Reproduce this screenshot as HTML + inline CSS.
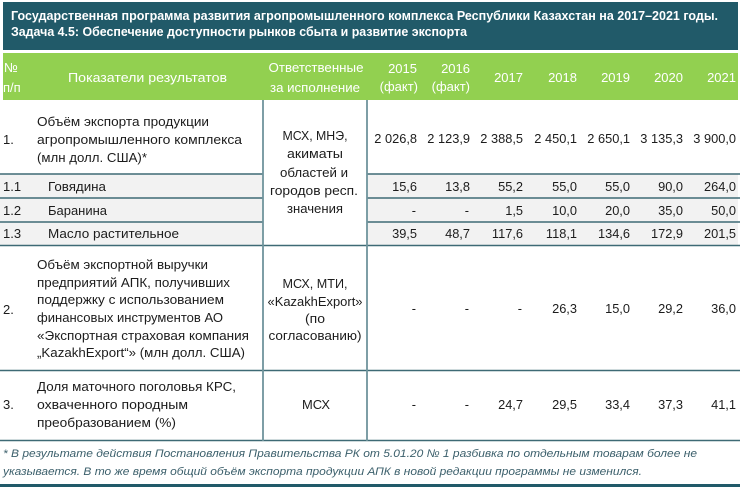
<!DOCTYPE html>
<html><head><meta charset="utf-8"><style>
html,body{margin:0;padding:0;background:#fff;}
svg{display:block;}
text{font-family:"Liberation Sans","DejaVu Sans",sans-serif;}
.t{font-size:12.5px;font-weight:bold;fill:#fff;}
.h{font-size:13px;fill:#fff;}
.b{font-size:13px;fill:#1c1c1c;}
.n{font-size:12.8px;fill:#1c1c1c;text-anchor:end;}
.c{text-anchor:middle;}
.f{font-size:11px;font-style:italic;fill:#3b5f6b;}
</style></head><body>
<svg width="740" height="487" viewBox="0 0 740 487" xmlns="http://www.w3.org/2000/svg">
<rect x="0" y="0" width="740" height="487" fill="#fff"/>
<!-- title -->
<rect x="3" y="2" width="735" height="48" fill="#215a69"/>
<text class="t" x="11" y="20" textLength="707" lengthAdjust="spacingAndGlyphs">Государственная программа развития агропромышленного комплекса Республики Казахстан на 2017–2021 годы.</text>
<text class="t" x="11" y="36" textLength="456" lengthAdjust="spacingAndGlyphs">Задача 4.5: Обеспечение доступности рынков сбыта и развитие экспорта</text>
<!-- header -->
<rect x="3" y="53" width="735" height="47" fill="#92d050"/>
<text class="h" x="4" y="72">№</text>
<text class="h" x="3" y="92">п/п</text>
<text class="h" x="68" y="82" textLength="159" lengthAdjust="spacingAndGlyphs">Показатели результатов</text>
<text class="h c" x="316" y="72" textLength="95" lengthAdjust="spacingAndGlyphs">Ответственные</text>
<text class="h c" x="315" y="92" textLength="90" lengthAdjust="spacingAndGlyphs">за исполнение</text>
<text class="h" x="417" y="73" text-anchor="end">2015</text>
<text class="h" x="418" y="91" text-anchor="end">(факт)</text>
<text class="h" x="470" y="73" text-anchor="end">2016</text>
<text class="h" x="470" y="91" text-anchor="end">(факт)</text>
<text class="h" x="523" y="82" text-anchor="end">2017</text>
<text class="h" x="577" y="82" text-anchor="end">2018</text>
<text class="h" x="630" y="82" text-anchor="end">2019</text>
<text class="h" x="683" y="82" text-anchor="end">2020</text>
<text class="h" x="736" y="82" text-anchor="end">2021</text>
<!-- sub-row backgrounds -->
<rect x="0" y="174" width="263" height="71" fill="#f2f2f2"/>
<rect x="367" y="174" width="371" height="71" fill="#f2f2f2"/>
<!-- horizontal lines -->
<g stroke="#3e6a75" stroke-width="1.6">
<line x1="0" y1="174" x2="263" y2="174"/><line x1="367" y1="174" x2="740" y2="174"/>
<line x1="0" y1="198" x2="263" y2="198"/><line x1="367" y1="198" x2="740" y2="198"/>
<line x1="0" y1="222" x2="263" y2="222"/><line x1="367" y1="222" x2="740" y2="222"/>
<line x1="0" y1="245.5" x2="740" y2="245.5"/>
<line x1="0" y1="370.5" x2="740" y2="370.5"/>
<line x1="0" y1="440.5" x2="740" y2="440.5"/>
</g>
<g stroke="#6f949c" stroke-width="1.8">
<line x1="263" y1="100" x2="263" y2="441"/>
<line x1="367" y1="100" x2="367" y2="441"/>
</g>
<rect x="0" y="484" width="740" height="3" fill="#215a69"/>
<!-- row 1 -->
<text class="b" x="3" y="144">1.</text>
<text class="b" x="37" y="126" textLength="172" lengthAdjust="spacingAndGlyphs">Объём экспорта продукции</text>
<text class="b" x="37" y="144" textLength="205" lengthAdjust="spacingAndGlyphs">агропромышленного комплекса</text>
<text class="b" x="37" y="162" textLength="110" lengthAdjust="spacingAndGlyphs">(млн долл. США)*</text>
<text class="b c" x="315" y="140" textLength="65" lengthAdjust="spacingAndGlyphs">МСХ, МНЭ,</text>
<text class="b c" x="315" y="158" textLength="56" lengthAdjust="spacingAndGlyphs">акиматы</text>
<text class="b c" x="314" y="177" textLength="68" lengthAdjust="spacingAndGlyphs">областей и</text>
<text class="b c" x="314" y="195" textLength="88" lengthAdjust="spacingAndGlyphs">городов респ.</text>
<text class="b c" x="315" y="213" textLength="56" lengthAdjust="spacingAndGlyphs">значения</text>
<g class="n">
<text class="n" x="417" y="143">2 026,8</text><text class="n" x="470" y="143">2 123,9</text><text class="n" x="523" y="143">2 388,5</text><text class="n" x="577" y="143">2 450,1</text><text class="n" x="630" y="143">2 650,1</text><text class="n" x="683" y="143">3 135,3</text><text class="n" x="736" y="143">3 900,0</text>
</g>
<!-- 1.1 -->
<text class="b" x="3" y="191">1.1</text>
<text class="b" x="48" y="191" textLength="58" lengthAdjust="spacingAndGlyphs">Говядина</text>
<text class="n" x="417" y="191">15,6</text><text class="n" x="470" y="191">13,8</text><text class="n" x="523" y="191">55,2</text><text class="n" x="577" y="191">55,0</text><text class="n" x="630" y="191">55,0</text><text class="n" x="683" y="191">90,0</text><text class="n" x="736" y="191">264,0</text>
<!-- 1.2 -->
<text class="b" x="3" y="215">1.2</text>
<text class="b" x="48" y="215" textLength="59" lengthAdjust="spacingAndGlyphs">Баранина</text>
<text class="n" x="416" y="215">-</text><text class="n" x="469" y="215">-</text><text class="n" x="523" y="215">1,5</text><text class="n" x="577" y="215">10,0</text><text class="n" x="630" y="215">20,0</text><text class="n" x="683" y="215">35,0</text><text class="n" x="736" y="215">50,0</text>
<!-- 1.3 -->
<text class="b" x="3" y="238">1.3</text>
<text class="b" x="48" y="238" textLength="131" lengthAdjust="spacingAndGlyphs">Масло растительное</text>
<text class="n" x="417" y="238">39,5</text><text class="n" x="470" y="238">48,7</text><text class="n" x="523" y="238">117,6</text><text class="n" x="577" y="238">118,1</text><text class="n" x="630" y="238">134,6</text><text class="n" x="683" y="238">172,9</text><text class="n" x="736" y="238">201,5</text>
<!-- row 2 -->
<text class="b" x="3" y="314">2.</text>
<text class="b" x="37" y="269" textLength="171" lengthAdjust="spacingAndGlyphs">Объём экспортной выручки</text>
<text class="b" x="37" y="287" textLength="193" lengthAdjust="spacingAndGlyphs">предприятий АПК, получивших</text>
<text class="b" x="37" y="304" textLength="187" lengthAdjust="spacingAndGlyphs">поддержку с использованием</text>
<text class="b" x="37" y="322" textLength="186" lengthAdjust="spacingAndGlyphs">финансовых инструментов АО</text>
<text class="b" x="37" y="340" textLength="212" lengthAdjust="spacingAndGlyphs">«Экспортная страховая компания</text>
<text class="b" x="37" y="357" textLength="208" lengthAdjust="spacingAndGlyphs">„KazakhExport“» (млн долл. США)</text>
<text class="b c" x="315" y="288" textLength="65" lengthAdjust="spacingAndGlyphs">МСХ, МТИ,</text>
<text class="b c" x="315" y="306" textLength="95" lengthAdjust="spacingAndGlyphs">«KazakhExport»</text>
<text class="b c" x="315" y="323" textLength="20" lengthAdjust="spacingAndGlyphs">(по</text>
<text class="b c" x="315" y="340" textLength="93" lengthAdjust="spacingAndGlyphs">согласованию)</text>
<text class="n" x="416" y="313">-</text><text class="n" x="469" y="313">-</text><text class="n" x="522" y="313">-</text><text class="n" x="577" y="313">26,3</text><text class="n" x="630" y="313">15,0</text><text class="n" x="683" y="313">29,2</text><text class="n" x="736" y="313">36,0</text>
<!-- row 3 -->
<text class="b" x="3" y="409">3.</text>
<text class="b" x="37" y="391" textLength="199" lengthAdjust="spacingAndGlyphs">Доля маточного поголовья КРС,</text>
<text class="b" x="37" y="409" textLength="151" lengthAdjust="spacingAndGlyphs">охваченного породным</text>
<text class="b" x="37" y="427" textLength="139" lengthAdjust="spacingAndGlyphs">преобразованием (%)</text>
<text class="b c" x="316" y="409" textLength="28" lengthAdjust="spacingAndGlyphs">МСХ</text>
<text class="n" x="416" y="409">-</text><text class="n" x="469" y="409">-</text><text class="n" x="523" y="409">24,7</text><text class="n" x="577" y="409">29,5</text><text class="n" x="630" y="409">33,4</text><text class="n" x="683" y="409">37,3</text><text class="n" x="736" y="409">41,1</text>
<!-- footnote -->
<text class="f" x="3" y="457" textLength="694" lengthAdjust="spacingAndGlyphs">* В результате действия Постановления Правительства РК от 5.01.20 № 1 разбивка по отдельным товарам более не</text>
<text class="f" x="3" y="475" textLength="639" lengthAdjust="spacingAndGlyphs">указывается. В то же время общий объём экспорта продукции АПК в новой редакции программы не изменился.</text>
</svg>
</body></html>
